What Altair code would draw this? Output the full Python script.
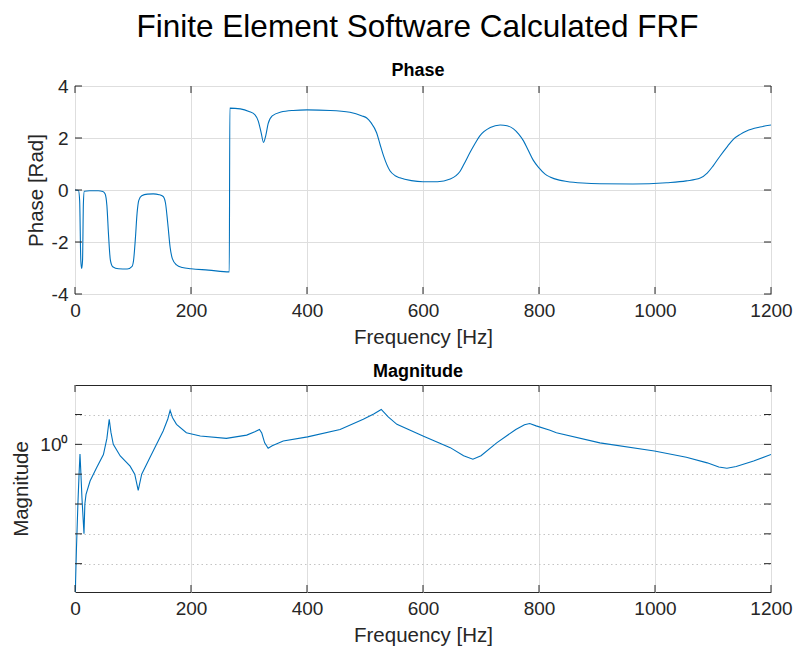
import altair as alt
import pandas as pd

# Phase response (Hz, rad)
phase_freq = [0, 6, 8, 10, 11.5, 13, 14.5, 16, 25, 40, 48, 52, 55, 58, 61, 65, 75, 90,
              98, 101, 104, 107, 110, 115, 125, 135, 145, 152, 156, 160, 164, 168, 175,
              185, 200, 230, 266, 267, 285, 300, 310, 316, 321, 325, 329, 333, 340, 355,
              376, 400, 440, 474, 495, 503, 510, 520, 526, 532, 543, 552, 560, 580, 600,
              625, 647, 657, 664, 672, 681, 690, 698, 716, 733, 745, 756, 765, 773, 781,
              790, 800, 810, 819, 835, 848, 875, 905, 962, 1020, 1054, 1078, 1090, 1100,
              1112, 1125, 1135, 1147, 1158, 1181, 1200]
phase_rad = [0, -0.02, -0.4, -2.7, -3.02, -2.7, -0.5, -0.05, -0.03, -0.03, -0.06, -0.15,
             -0.6, -1.8, -2.7, -2.95, -3.03, -3.04, -2.95, -2.7, -1.9, -0.9, -0.4, -0.22,
             -0.16, -0.15, -0.18, -0.25, -0.5, -1.3, -2.2, -2.65, -2.88, -2.98, -3.03,
             -3.08, -3.15, 3.15, 3.12, 3.02, 2.9, 2.65, 2.2, 1.83, 2.1, 2.55, 2.85, 3.0,
             3.06, 3.08, 3.06, 2.99, 2.85, 2.77, 2.6, 2.2, 1.75, 1.31, 0.74, 0.55, 0.47,
             0.36, 0.32, 0.32, 0.42, 0.55, 0.72, 1.05, 1.44, 1.8, 2.08, 2.4, 2.5, 2.47,
             2.35, 2.15, 1.9, 1.55, 1.15, 0.85, 0.62, 0.5, 0.38, 0.33, 0.27, 0.24, 0.23,
             0.28, 0.35, 0.46, 0.65, 0.92, 1.3, 1.68, 1.95, 2.14, 2.27, 2.42, 2.5]

# Magnitude response (Hz, log10 of magnitude)
mag_freq = [0, 1, 2.5, 5, 7, 8.6, 10, 12, 15.5, 17, 19, 26, 37, 49, 55, 59, 62, 66, 78,
            95, 103, 109, 115, 129, 152, 160, 164, 168, 175, 192, 216, 261, 296, 310, 318,
            322, 327, 333, 340, 359, 401, 457, 497, 515, 528, 540, 555, 600, 647, 670,
            686, 700, 727, 760, 775, 784, 795, 819, 830, 905, 999, 1054, 1090, 1110, 1124,
            1140, 1170, 1200]
mag_log10 = [-6.0, -4.6, -3.5, -2.0, -1.0, -0.32, -0.9, -1.8, -3.0, -2.0, -1.68, -1.23,
             -0.79, -0.34, 0.2, 0.84, 0.4, 0.0, -0.39, -0.73, -1.0, -1.54, -1.0, -0.45,
             0.45, 0.85, 1.14, 0.9, 0.67, 0.39, 0.28, 0.2, 0.31, 0.42, 0.5, 0.38, 0.05,
             -0.13, -0.05, 0.11, 0.25, 0.5, 0.84, 1.02, 1.17, 0.92, 0.67, 0.28, -0.11,
             -0.38, -0.5, -0.38, 0.05, 0.5, 0.66, 0.7, 0.62, 0.47, 0.39, 0.05, -0.22,
             -0.43, -0.62, -0.76, -0.8, -0.74, -0.56, -0.34]

freq_ticks = [0, 200, 400, 600, 800, 1000, 1200]
phase_ticks = [-4, -2, 0, 2, 4]
mag_ticks = [1e-4, 1e-3, 1e-2, 1e-1, 1, 10]

FONT = "Liberation Sans"
INK = "#262626"
LINE = "#0072BD"
GRID = "#dedede"
W, H1, H2 = 696, 208, 207
TICK = 7

phase_df = pd.DataFrame({"f": phase_freq, "phase": phase_rad})
mag_df = pd.DataFrame({"f": mag_freq, "mag": [10 ** v for v in mag_log10]})

x_scale = alt.Scale(domain=[0, 1200], nice=False, zero=False)
phase_scale = alt.Scale(domain=[-4, 4], nice=False, zero=False)
mag_scale = alt.Scale(type="log", domain=[10 ** -4.95, 10 ** 1.99], nice=False)

label_style = dict(labelFont=FONT, labelFontSize=19, labelColor=INK,
                   titleFont=FONT, titleFontSize=20.5, titleColor=INK,
                   titleFontWeight="normal", ticks=False, domain=False)

x_axis = alt.Axis(values=freq_ticks, title="Frequency [Hz]", grid=True,
                  gridColor=GRID, labelPadding=7, titlePadding=7, labelFlush=False,
                  labelExpr="'' + datum.value", **label_style)

phase_axis = alt.Axis(values=phase_ticks, title="Phase [Rad]", grid=True,
                      gridColor=GRID, labelPadding=7, titleX=-29,
                      labelExpr="'' + datum.value", **label_style)

mag_axis = alt.Axis(values=mag_ticks, title="Magnitude", grid=True,
                    labelExpr="datum.value == 1 ? '10\u2070' : ''",
                    gridColor=alt.condition("datum.value == 1",
                                            alt.value(GRID), alt.value("#c4c4c4")),
                    gridDash=alt.condition("datum.value == 1",
                                           alt.value([]), alt.value([1.5, 3])),
                    labelPadding=7, titleX=-44, **label_style)


def inner_ticks(values, field, scale, axis, h):
    """Tick marks drawn inside the frame on all four sides."""
    xdf = pd.DataFrame({"f": freq_ticks})
    ydf = pd.DataFrame({field: values})
    xb = alt.Chart(xdf).mark_rule(color=INK, strokeWidth=1)
    yb = alt.Chart(ydf).mark_rule(color=INK, strokeWidth=1)
    xenc = alt.X("f:Q", scale=x_scale, axis=x_axis)
    yenc = alt.Y(f"{field}:Q", scale=scale, axis=axis)
    return [
        xb.encode(x=xenc, y=alt.value(h), y2=alt.value(h - TICK)),
        xb.encode(x=xenc, y=alt.value(0), y2=alt.value(TICK)),
        yb.encode(y=yenc, x=alt.value(0), x2=alt.value(TICK)),
        yb.encode(y=yenc, x=alt.value(W - TICK), x2=alt.value(W)),
    ]


def panel_title(text, dy=0):
    return alt.TitleParams(text, font=FONT, fontSize=18, fontWeight="bold",
                           color="black", offset=4, dx=-5, dy=dy, frame="group")


phase_line = alt.Chart(phase_df).mark_line(
    color=LINE, strokeWidth=1.1, interpolate="monotone", clip=True
).encode(
    x=alt.X("f:Q", scale=x_scale, axis=x_axis),
    y=alt.Y("phase:Q", scale=phase_scale, axis=phase_axis),
)

phase_chart = alt.layer(
    phase_line, *inner_ticks(phase_ticks, "phase", phase_scale, phase_axis, H1)
).properties(width=W, height=H1, title=panel_title("Phase", dy=7))

mag_line = alt.Chart(mag_df).mark_line(
    color=LINE, strokeWidth=1.1, clip=True
).encode(
    x=alt.X("f:Q", scale=x_scale, axis=x_axis),
    y=alt.Y("mag:Q", scale=mag_scale, axis=mag_axis),
)

mag_chart = alt.layer(
    mag_line, *inner_ticks(mag_ticks, "mag", mag_scale, mag_axis, H2)
).properties(width=W, height=H2, title=panel_title("Magnitude"))

# Panels are stacked by their plot areas so both frames share the same left edge.
chart = alt.vconcat(phase_chart, mag_chart, spacing=91, bounds="flush").properties(
    title=alt.TitleParams("Finite Element Software Calculated FRF", font=FONT,
                          fontSize=31.5, fontWeight="normal", color="black",
                          anchor="middle", offset=18, dx=16),
    padding={"left": 10, "top": 12, "right": 0, "bottom": 0},
).configure_view(stroke=INK, strokeWidth=1)

chart.save("out.html", embed_options={"renderer": "svg", "actions": False})
